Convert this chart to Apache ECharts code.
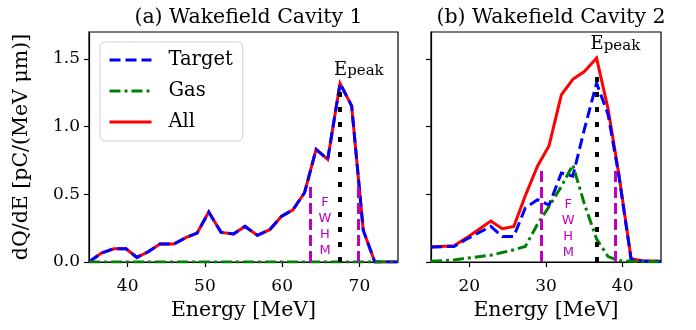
<!DOCTYPE html>
<html>
<head>
<meta charset="utf-8">
<script src="https://cdn.jsdelivr.net/npm/echarts@6/dist/echarts.min.js"></script>
<style>html,body{margin:0;padding:0;background:#fff}#c{width:696px;height:330px}</style>
</head>
<body>
<div id="c"></div>
<script>
// ---------- data ----------
const titles = ['(a) Wakefield Cavity 1', '(b) Wakefield Cavity 2'];
const seriesNames = ['Target', 'Gas', 'All'];
const xAxisName = 'Energy [MeV]';
const yAxisName = 'dQ/dE [pC/(MeV μm)]';

const leftXTicks = [40, 50, 60, 70];
const rightXTicks = [20, 30, 40];
const yTicks = [0, 0.5, 1.0, 1.5];

const leftEnergy = [35.0, 36.6, 38.2, 39.8, 41.2, 42.6, 44.2, 46.0, 47.6, 49.0, 50.5, 52.1, 53.7, 55.2, 56.8, 58.4, 59.9, 61.4, 62.9, 64.4, 65.9, 67.5, 69.0, 70.5, 72.0, 73.5, 75.0];
const leftTarget = [0.0, 0.066, 0.098, 0.098, 0.034, 0.074, 0.133, 0.133, 0.182, 0.214, 0.369, 0.219, 0.207, 0.263, 0.197, 0.239, 0.337, 0.386, 0.512, 0.832, 0.758, 1.320, 1.154, 0.235, 0.0, 0.0, 0.0];
const leftGas    = [0.0, 0.0, 0.0, 0.0, 0.0, 0.0, 0.0, 0.0, 0.0, 0.0, 0.0, 0.0, 0.0, 0.0, 0.0, 0.0, 0.0, 0.0, 0.0, 0.0, 0.0, 0.0, 0.0, 0.0, 0.0, 0.0, 0.0];
const leftAll    = [0.0, 0.066, 0.098, 0.098, 0.034, 0.074, 0.133, 0.133, 0.182, 0.214, 0.369, 0.219, 0.207, 0.263, 0.197, 0.239, 0.337, 0.386, 0.512, 0.832, 0.758, 1.320, 1.154, 0.235, 0.0, 0.0, 0.0];

const rightEnergy = [15.0, 18.0, 19.9, 22.8, 24.3, 25.8, 27.3, 28.9, 30.4, 32.0, 33.5, 35.0, 36.6, 38.1, 39.5, 41.1, 42.5, 45.0];
const rightTarget = [0.111, 0.115, 0.177, 0.263, 0.189, 0.189, 0.400, 0.460, 0.420, 0.657, 0.635, 0.980, 1.322, 1.090, 0.640, 0.020, 0.008, 0.004];
const rightGas    = [0.005, 0.015, 0.030, 0.050, 0.070, 0.090, 0.115, 0.280, 0.410, 0.558, 0.718, 0.430, 0.170, 0.040, 0.010, 0.005, 0.002, 0.0];
const rightAll    = [0.111, 0.120, 0.189, 0.303, 0.246, 0.263, 0.490, 0.710, 0.860, 1.236, 1.350, 1.408, 1.507, 1.130, 0.650, 0.025, 0.010, 0.005];

// annotations (data coordinates)
const leftPeakE = 67.5, leftPeakLineTop = 1.30, leftPeakLabelY = 1.42;
const rightPeakE = 36.6, rightPeakLineTop = 1.42, rightPeakLabelY = 1.607;
const leftFwhm = [63.6, 69.9], leftFwhmTop = 0.57;
const rightFwhm = [29.4, 39.0], rightFwhmTop = 0.694;
const leftFwhmText = [65.55, 0.26];
const rightFwhmText = [32.9, 0.246];
const fwhmLetters = ['F', 'W', 'H', 'M'];
const peakLabel = ['E', 'peak'];

// ---------- styling ----------
const SERIF = 'DejaVu Serif';
const FS = 17;       // tick labels
const FS_BIG = 20.5; // axis names
const FS_TITLE = 20.5;
const colors = { Target: '#0000ff', Gas: '#008000', All: '#ff0000' };
const lineTypes = { Target: [11, 5], Gas: [11, 4, 3, 4], All: 'solid' };
const zOrder = { Target: 3, Gas: 4, All: 2 };

function zip(xs, ys) { return xs.map((x, i) => [x, ys[i]]); }

function makeSeries(gi, energy, vals, extras) {
  const out = [];
  seriesNames.forEach((n, k) => {
    out.push({
      name: n, type: 'line', xAxisIndex: gi, yAxisIndex: gi,
      data: zip(energy, vals[k]), symbol: 'none', showSymbol: false,
      z: zOrder[n], silent: true,
      lineStyle: { color: colors[n], width: 3, type: lineTypes[n], cap: 'butt', join: 'miter' },
      itemStyle: { color: colors[n] }
    });
  });
  out.push({
    type: 'line', xAxisIndex: gi, yAxisIndex: gi, data: [], symbol: 'none', z: 5, silent: true,
    markLine: {
      symbol: ['none', 'none'], silent: true, animation: false,
      label: { show: false },
      data: [
        [{ coord: [extras.peakE, 0], lineStyle: { color: '#000', width: 4, type: [5, 10] } }, { coord: [extras.peakE, extras.peakTop] }],
        [{ coord: [extras.fwhm[0], 0], lineStyle: { color: '#bf00bf', width: 3, type: [11, 5] } }, { coord: [extras.fwhm[0], extras.fwhmTop] }],
        [{ coord: [extras.fwhm[1], 0], lineStyle: { color: '#bf00bf', width: 3, type: [11, 5] } }, { coord: [extras.fwhm[1], extras.fwhmTop] }]
      ]
    },
    markPoint: {
      symbol: 'circle', symbolSize: 0, silent: true, animation: false,
      data: [
        { coord: [extras.peakE, extras.peakLabelY],
          label: { show: true, position: 'inside', align: 'left', offset: [-6, 0],
            formatter: '{e|' + peakLabel[0] + '}{s|' + peakLabel[1] + '}',
            rich: {
              e: { fontFamily: SERIF, fontSize: 18, color: '#000', verticalAlign: 'top', lineHeight: 18 },
              s: { fontFamily: SERIF, fontSize: 15, color: '#000', verticalAlign: 'bottom', lineHeight: 15, padding: [6, 0, 0, 0] }
            } } },
        { coord: extras.fwhmText,
          label: { show: true, position: 'inside', formatter: fwhmLetters.join('\n'),
            fontFamily: 'DejaVu Sans', fontSize: 13, lineHeight: 16, color: '#bf00bf', align: 'center' } }
      ]
    }
  });
  return out;
}

const grids = [
  { left: 89, top: 32, width: 309, height: 230 },
  { left: 431, top: 32, width: 230, height: 230 }
];

function xAxis(gi, min, max, ticks) {
  return {
    type: 'value', gridIndex: gi, min: min, max: max,
    axisLine: { show: true, onZero: false, lineStyle: { color: '#000', width: 1.2 } },
    axisTick: { show: true, inside: false, length: 5, customValues: ticks, lineStyle: { color: '#000', width: 1.2 } },
    axisLabel: { show: true, customValues: ticks, margin: 16, color: '#000', fontFamily: SERIF, fontSize: FS },
    splitLine: { show: false },
    name: xAxisName, nameLocation: 'middle', nameGap: 37,
    nameTextStyle: { color: '#000', fontFamily: SERIF, fontSize: FS_BIG }
  };
}
function yAxis(gi, showLabels) {
  const a = {
    type: 'value', gridIndex: gi, min: 0, max: 1.7,
    axisLine: { show: true, onZero: false, lineStyle: { color: '#000', width: 1.2 } },
    axisTick: { show: true, inside: false, length: 5, customValues: yTicks, lineStyle: { color: '#000', width: 1.2 } },
    axisLabel: { show: showLabels, customValues: yTicks, margin: 9, color: '#000', fontFamily: SERIF, fontSize: FS,
      formatter: v => Number(v).toFixed(1) },
    splitLine: { show: false }
  };
  if (showLabels) {
    a.name = yAxisName; a.nameLocation = 'middle'; a.nameGap = 57; a.nameRotate = 90;
    a.nameTextStyle = { color: '#000', fontFamily: SERIF, fontSize: FS_BIG };
  }
  return a;
}

const titleStyle = { fontFamily: SERIF, fontSize: FS_TITLE, fontWeight: 'normal', color: '#000' };

const option = {
  animation: false,
  backgroundColor: '#fff',
  title: [
    { text: titles[0], left: 243.5, top: 2, textAlign: 'center', textStyle: titleStyle },
    { text: titles[1], left: 546, top: 2, textAlign: 'center', textStyle: titleStyle }
  ],
  grid: grids.map(g => Object.assign({ show: true, borderColor: '#000', borderWidth: 1.2, backgroundColor: 'transparent' }, g)),
  xAxis: [xAxis(0, 35, 75, leftXTicks), xAxis(1, 15, 45, rightXTicks)],
  yAxis: [yAxis(0, true), yAxis(1, false)],
  legend: {
    data: seriesNames, orient: 'vertical', left: 100, top: 42,
    backgroundColor: '#fff', borderColor: '#cccccc', borderWidth: 1, borderRadius: 5,
    padding: [8, 10, 9, 8], itemGap: 11, itemWidth: 42, itemHeight: 22,
    itemStyle: { opacity: 0 },
    lineStyle: { width: 3 },
    textStyle: { fontFamily: SERIF, fontSize: 19.5, color: '#000', padding: [0, 0, 0, 12] },
    selectedMode: false
  },
  series: [].concat(
    makeSeries(0, leftEnergy, [leftTarget, leftGas, leftAll],
      { peakE: leftPeakE, peakTop: leftPeakLineTop, peakLabelY: leftPeakLabelY, fwhm: leftFwhm, fwhmTop: leftFwhmTop, fwhmText: leftFwhmText }),
    makeSeries(1, rightEnergy, [rightTarget, rightGas, rightAll],
      { peakE: rightPeakE, peakTop: rightPeakLineTop, peakLabelY: rightPeakLabelY, fwhm: rightFwhm, fwhmTop: rightFwhmTop, fwhmText: rightFwhmText })
  )
};

const chart = echarts.init(document.getElementById('c'), null, { renderer: 'canvas', width: 696, height: 330 });
chart.setOption(option);
</script>
</body>
</html>
